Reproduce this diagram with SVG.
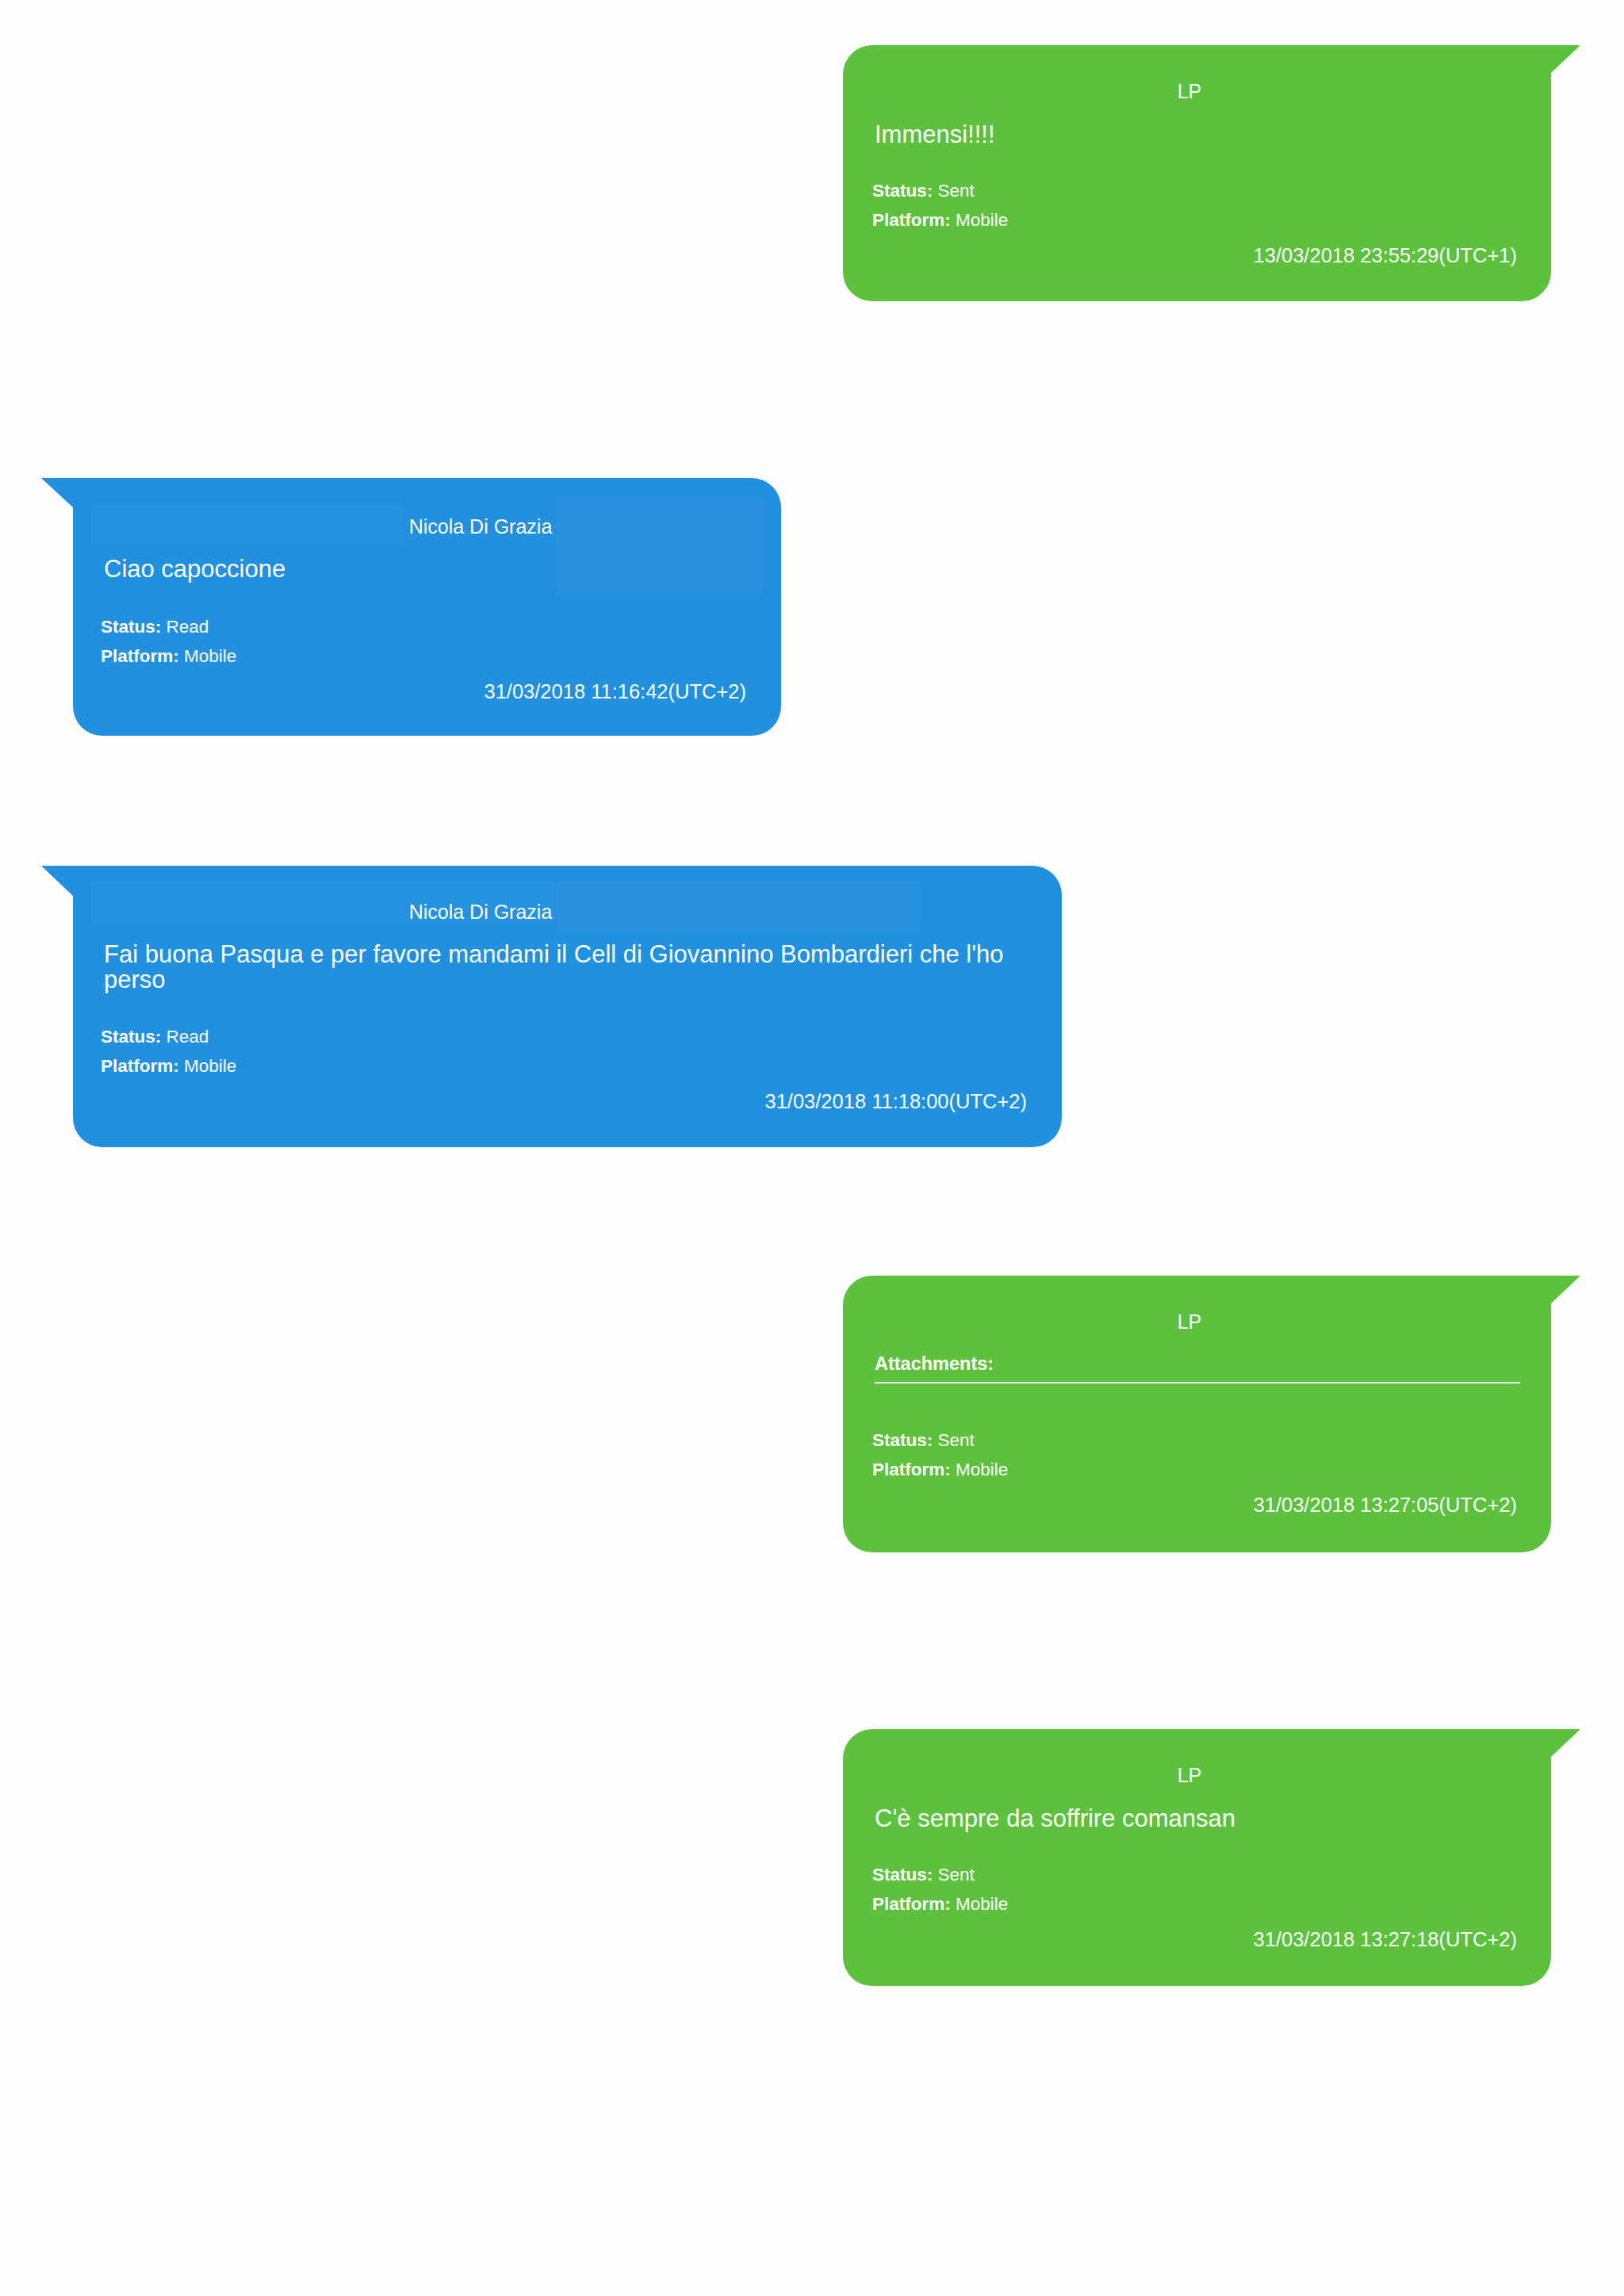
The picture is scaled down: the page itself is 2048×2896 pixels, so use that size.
<svg xmlns="http://www.w3.org/2000/svg" width="2048" height="2896" viewBox="0 0 2048 2896">
<style>
text{font-family:"Liberation Sans",Arial,sans-serif;fill:#fff}
.g{fill:#5cc13d}.b{fill:#2090df}
.n{font-size:25px;text-anchor:middle}
.m{font-size:31px}
.s{font-size:22.5px}
.t{font-size:25.5px;text-anchor:end}
.k{font-weight:bold}
</style>
<rect width="2048" height="2896" fill="#fdfdfd"/>
<g id="msg1">
<path class="g" d="M1100 57H1993L1956 92V343A37 37 0 0 1 1919 380H1100A37 37 0 0 1 1063 343V94A37 37 0 0 1 1100 57Z"/>
<text class="n" x="1500" y="124">LP</text>
<text class="m" x="1103" y="180">Immensi!!!!</text>
<text class="s" x="1100" y="248"><tspan class="k">Status:</tspan> Sent</text>
<text class="s" x="1100" y="285"><tspan class="k">Platform:</tspan> Mobile</text>
<text class="t" x="1913" y="331">13/03/2018 23:55:29(UTC+1)</text>
</g>
<g id="msg2">
<path class="b" d="M52 603H948A37 37 0 0 1 985 640V891A37 37 0 0 1 948 928H129A37 37 0 0 1 92 891V640Z"/>
<rect x="114" y="637" width="394" height="50" fill="#2a95e2" opacity="0.6"/>
<rect x="701" y="628" width="262" height="120" fill="#2d93e0" opacity="0.6"/>
<text class="n" x="606" y="673">Nicola Di Grazia</text>
<text class="m" x="131" y="728">Ciao capoccione</text>
<text class="s" x="127" y="798"><tspan class="k">Status:</tspan> Read</text>
<text class="s" x="127" y="835"><tspan class="k">Platform:</tspan> Mobile</text>
<text class="t" x="941" y="881">31/03/2018 11:16:42(UTC+2)</text>
</g>
<g id="msg3">
<path class="b" d="M52 1092H1302A37 37 0 0 1 1339 1129V1410A37 37 0 0 1 1302 1447H129A37 37 0 0 1 92 1410V1130Z"/>
<rect x="114" y="1112" width="586" height="52" fill="#2a95e2" opacity="0.6"/>
<rect x="701" y="1112" width="460" height="62" fill="#2d93e0" opacity="0.6"/>
<text class="n" x="606" y="1159">Nicola Di Grazia</text>
<text class="m" x="131" y="1214">Fai buona Pasqua e per favore mandami il Cell di Giovannino Bombardieri che l'ho</text>
<text class="m" x="131" y="1246">perso</text>
<text class="s" x="127" y="1315"><tspan class="k">Status:</tspan> Read</text>
<text class="s" x="127" y="1352"><tspan class="k">Platform:</tspan> Mobile</text>
<text class="t" x="1295" y="1398">31/03/2018 11:18:00(UTC+2)</text>
</g>
<g id="msg4">
<path class="g" d="M1100 1609H1993L1956 1644V1921A37 37 0 0 1 1919 1958H1100A37 37 0 0 1 1063 1921V1646A37 37 0 0 1 1100 1609Z"/>
<text class="n" x="1500" y="1676">LP</text>
<text class="s k" x="1103" y="1728" style="font-size:23.5px">Attachments:</text>
<line x1="1103" y1="1744" x2="1917" y2="1744" stroke="#fff" stroke-width="2"/>
<text class="s" x="1100" y="1824"><tspan class="k">Status:</tspan> Sent</text>
<text class="s" x="1100" y="1861"><tspan class="k">Platform:</tspan> Mobile</text>
<text class="t" x="1913" y="1907">31/03/2018 13:27:05(UTC+2)</text>
</g>
<g id="msg5">
<path class="g" d="M1100 2181H1993L1956 2216V2468A37 37 0 0 1 1919 2505H1100A37 37 0 0 1 1063 2468V2218A37 37 0 0 1 1100 2181Z"/>
<text class="n" x="1500" y="2248">LP</text>
<text class="m" x="1103" y="2304">C'è sempre da soffrire comansan</text>
<text class="s" x="1100" y="2372"><tspan class="k">Status:</tspan> Sent</text>
<text class="s" x="1100" y="2409"><tspan class="k">Platform:</tspan> Mobile</text>
<text class="t" x="1913" y="2455">31/03/2018 13:27:18(UTC+2)</text>
</g>
<g id="connectors"/>
</svg>
